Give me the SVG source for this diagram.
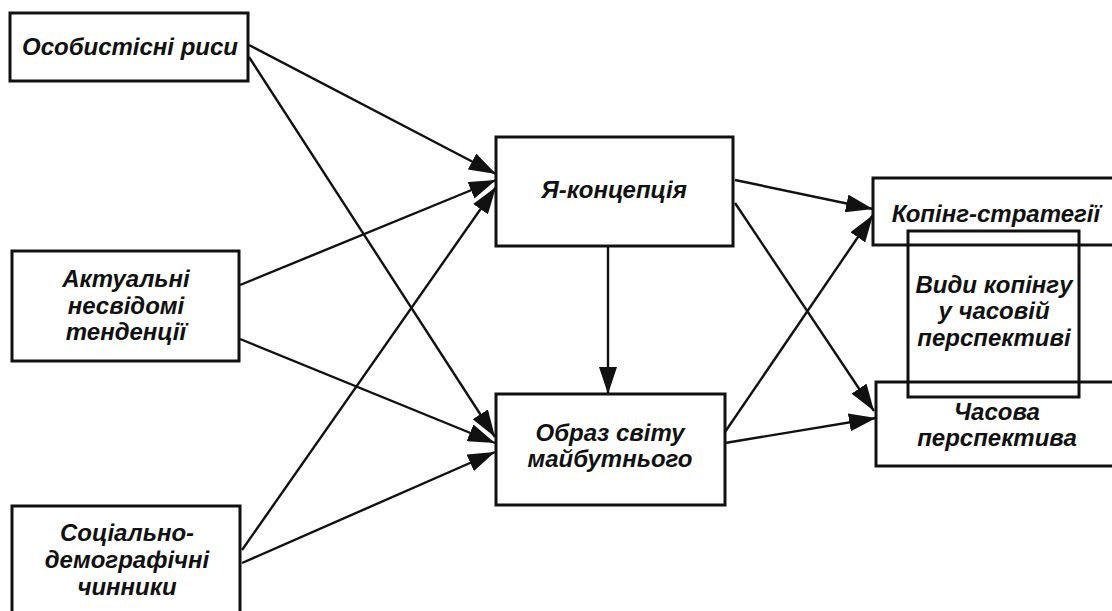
<svg xmlns="http://www.w3.org/2000/svg" width="1112" height="611" viewBox="0 0 1112 611">
<style>
.box{fill:#fff;stroke:#111;stroke-width:3}
.open{fill:none;stroke:#111;stroke-width:3}
.t{font-family:"Liberation Sans",Arial,sans-serif;font-weight:bold;font-style:italic;font-size:24px;fill:#111;text-anchor:middle}
.c{stroke:#111;stroke-width:2.4;fill:none;marker-end:url(#ah)}
</style>
<defs>
<marker id="ah" markerUnits="userSpaceOnUse" markerWidth="28" markerHeight="18" refX="27" refY="9" orient="auto">
<path d="M0,0 L27,9 L0,18 z" fill="#111"/>
</marker>
</defs>
<rect width="1112" height="611" fill="#fff"/>
<g id="connectors">
<line class="c" x1="249" y1="45" x2="496" y2="174"/>
<line class="c" x1="249" y1="57" x2="495" y2="437"/>
<line class="c" x1="240" y1="285" x2="496" y2="180"/>
<line class="c" x1="240" y1="339" x2="495" y2="443"/>
<line class="c" x1="242" y1="550" x2="496" y2="187"/>
<line class="c" x1="242" y1="563" x2="495" y2="452"/>
<line class="c" x1="608" y1="246" x2="608" y2="394"/>
<line class="c" x1="735" y1="180" x2="873" y2="209"/>
<line class="c" x1="735" y1="203" x2="874" y2="411"/>
<line class="c" x1="725" y1="432" x2="873" y2="215"/>
<line class="c" x1="725" y1="443" x2="876" y2="418"/>
</g>
<g id="n1">
<rect class="box" x="10" y="13" width="238" height="68"/>
<text class="t" x="130" y="55">Особистісні риси</text>
</g>
<g id="n2">
<rect class="box" x="12" y="251" width="227" height="110"/>
<text class="t" x="126" y="287">Актуальні</text>
<text class="t" x="126" y="314">несвідомі</text>
<text class="t" x="126" y="340">тенденції</text>
</g>
<g id="n3">
<rect class="box" x="12" y="506" width="228" height="115"/>
<text class="t" x="127" y="541">Соціально-</text>
<text class="t" x="127" y="568">демографічні</text>
<text class="t" x="127" y="595">чинники</text>
</g>
<g id="n4">
<rect class="box" x="496" y="137" width="237" height="109"/>
<text class="t" x="614" y="198">Я-концепція</text>
</g>
<g id="n5">
<rect class="box" x="496" y="394" width="229" height="111"/>
<text class="t" x="610" y="441">Образ світу</text>
<text class="t" x="610" y="467">майбутнього</text>
</g>
<g id="n6">
<rect class="box" x="873" y="178" width="250" height="67"/>
<text class="t" x="996" y="222">Копінг-стратегії</text>
</g>
<g id="n7">
<rect class="box" x="876" y="382" width="250" height="84"/>
<text class="t" x="997" y="420">Часова</text>
<text class="t" x="997" y="446">перспектива</text>
</g>
<g id="n8">
<rect class="open" x="908" y="231" width="171" height="166"/>
<text class="t" x="994" y="293">Види копінгу</text>
<text class="t" x="994" y="319">у часовій</text>
<text class="t" x="994" y="346">перспективі</text>
</g>
</svg>
